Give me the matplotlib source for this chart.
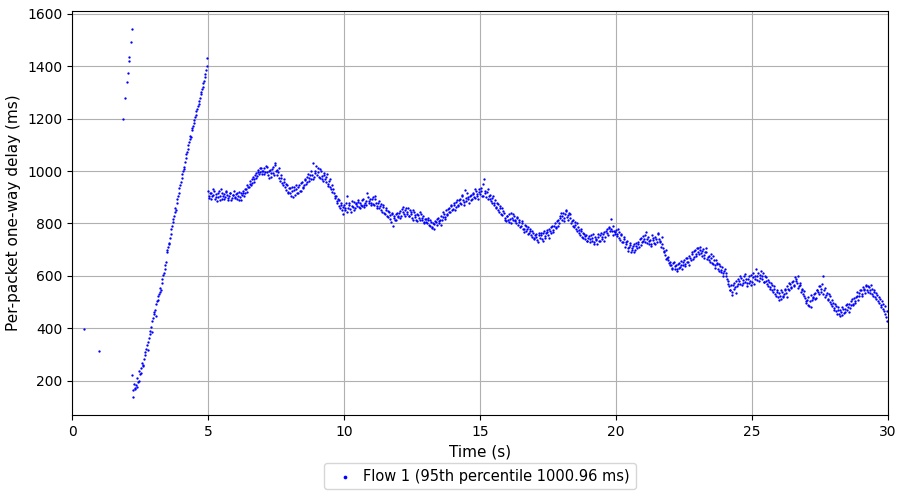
import numpy as np
import matplotlib
matplotlib.use("Agg")
import matplotlib.pyplot as plt

# puntos sueltos al inicio
early_t = [0.44, 0.98, 1.89, 1.95, 2.01, 2.05, 2.08, 2.10, 2.17, 2.21]
early_d = [397, 314, 1199, 1280, 1340, 1372, 1420, 1433, 1490, 1540]

# rampa 2.20 .. 4.95 s, cada 0.05 s
ramp_d = [222, 140, 168, 185, 175, 200, 225, 248, 262, 285,
          310, 335, 350, 380, 405, 430, 455, 470, 495, 510,
          530, 555, 575, 605, 625, 655, 700, 725, 745, 780,
          805, 830, 860, 880, 905, 935, 960, 990, 1015, 1035,
          1065, 1085, 1110, 1135, 1155, 1170, 1195, 1215, 1235, 1255,
          1280, 1300, 1320, 1345, 1370, 1400]
# segunda pasada de la rampa, 2.225 .. 4.975 s
ramp_d2 = [165, 190, 172, 210, 195, 238, 230, 270, 258, 300,
           322, 318, 365, 392, 388, 440, 462, 448, 505, 522,
           540, 548, 590, 612, 640, 690, 712, 722, 760, 790,
           818, 842, 850, 895, 918, 945, 972, 1002, 1008, 1050,
           1072, 1098, 1122, 1128, 1165, 1182, 1205, 1228, 1248, 1268,
           1292, 1312, 1335, 1360, 1385, 1430]

# meseta 5.00 .. 29.95 s, cada 0.05 s (una fila por segundo)
plateau_d = [
    922, 898, 915, 905, 930, 893, 912, 900, 925, 890, 918, 905, 895, 922, 908, 897, 915, 888, 910, 925,
    898, 915, 905, 890, 918, 908, 925, 915, 930, 945, 940, 962, 955, 978, 970, 992, 980, 1005, 995, 1012,
    988, 1010, 995, 1015, 985, 1000, 978, 1008, 992, 1022, 1000, 985, 1010, 962, 975, 945, 960, 928, 945, 915,
    935, 905, 925, 940, 910, 932, 918, 948, 925, 958, 940, 965, 950, 978, 962, 985, 968, 1030, 978, 1002,
    985, 1010, 975, 1000, 970, 992, 968, 978, 950, 962, 938, 920, 932, 898, 905, 878, 890, 858, 872, 835,
    870, 852, 905, 860, 878, 845, 868, 882, 858, 875, 890, 862, 880, 868, 895, 872, 885, 915, 878, 895,
    880, 900, 870, 892, 865, 878, 858, 875, 845, 862, 838, 852, 825, 845, 818, 835, 790, 828, 812, 840,
    825, 848, 830, 862, 838, 852, 835, 858, 828, 845, 822, 850, 832, 815, 838, 820, 842, 812, 828, 805,
    818, 800, 812, 790, 805, 782, 798, 810, 795, 822, 808, 830, 815, 842, 825, 850, 835, 860, 842, 868,
    855, 878, 862, 890, 870, 895, 875, 905, 882, 928, 885, 900, 880, 908, 892, 918, 898, 925, 905, 930,
    912, 935, 905, 968, 915, 920, 895, 910, 885, 898, 870, 888, 860, 875, 845, 858, 832, 848, 822, 808,
    828, 805, 818, 840, 812, 830, 808, 825, 795, 812, 790, 808, 778, 795, 770, 785, 762, 778, 750, 765,
    742, 760, 738, 765, 745, 758, 732, 770, 752, 775, 758, 780, 765, 792, 775, 800, 785, 815, 800, 830,
    815, 840, 822, 848, 825, 815, 835, 800, 812, 785, 795, 770, 788, 762, 778, 750, 765, 742, 758, 735,
    752, 730, 745, 760, 728, 742, 722, 750, 735, 765, 742, 768, 750, 778, 758, 782, 818, 770, 790, 760,
    775, 752, 768, 738, 755, 730, 748, 720, 735, 705, 718, 692, 708, 720, 698, 715, 730, 712, 745, 728,
    752, 730, 768, 742, 722, 738, 715, 745, 725, 750, 728, 760, 735, 712, 722, 695, 680, 665, 672, 648,
    655, 632, 648, 625, 642, 628, 650, 635, 658, 640, 662, 645, 668, 652, 678, 662, 690, 672, 700, 685,
    705, 682, 698, 675, 702, 680, 692, 665, 678, 652, 668, 645, 660, 632, 650, 628, 645, 615, 635, 610,
    625, 600, 582, 560, 548, 528, 565, 550, 580, 562, 588, 570, 592, 575, 598, 578, 562, 590, 572, 602,
    578, 612, 590, 625, 598, 580, 605, 588, 612, 578, 595, 570, 585, 558, 572, 545, 560, 530, 545, 518,
    535, 512, 540, 525, 552, 535, 562, 545, 570, 555, 582, 565, 590, 572, 555, 565, 540, 552, 525, 515,
    498, 518, 485, 528, 508, 520, 535, 515, 548, 530, 560, 540, 598, 545, 520, 535, 510, 522, 495, 508,
    478, 492, 465, 480, 455, 470, 450, 475, 462, 488, 470, 495, 478, 505, 488, 515, 498, 525, 510, 535,
    545, 525, 552, 535, 560, 540, 558, 535, 550, 525, 540, 512, 528, 498, 512, 482, 495, 465, 455, 430,
]

# segunda pasada de la meseta, 5.025 .. 29.975 s
plateau_d2 = [
    905, 918, 892, 910, 925, 900, 885, 915, 905, 930, 895, 912, 900, 920, 890, 905, 918, 898, 910, 902,
    912, 895, 920, 902, 888, 915, 905, 930, 920, 940, 952, 948, 968, 960, 985, 975, 998, 988, 1010, 1000,
    1002, 990, 1018, 998, 975, 1005, 992, 1015, 985, 1030, 1005, 995, 972, 985, 955, 968, 940, 952, 920, 935,
    918, 940, 900, 928, 945, 915, 938, 925, 955, 935, 948, 970, 958, 990, 972, 1000, 985, 970, 992, 1018,
    995, 978, 1008, 982, 962, 985, 958, 990, 942, 968, 930, 945, 915, 905, 885, 895, 865, 880, 850, 862,
    858, 880, 845, 872, 855, 885, 862, 850, 878, 865, 882, 858, 872, 890, 862, 880, 870, 900, 885, 872,
    892, 875, 905, 880, 858, 885, 865, 850, 870, 840, 858, 830, 848, 832, 805, 840, 822, 815, 835, 828,
    840, 820, 855, 842, 830, 860, 845, 828, 852, 838, 815, 842, 825, 808, 832, 815, 835, 820, 800, 818,
    805, 822, 795, 815, 788, 800, 778, 805, 818, 800, 815, 795, 825, 835, 818, 832, 855, 842, 870, 852,
    870, 850, 882, 868, 888, 878, 910, 890, 870, 898, 915, 892, 905, 888, 912, 900, 930, 912, 895, 920,
    925, 905, 950, 925, 902, 930, 905, 892, 878, 905, 880, 862, 880, 852, 868, 838, 858, 840, 815, 830,
    815, 835, 800, 822, 838, 815, 800, 820, 805, 785, 800, 780, 768, 790, 778, 760, 772, 755, 770, 745,
    755, 748, 730, 755, 762, 740, 765, 745, 762, 768, 745, 772, 785, 768, 790, 782, 808, 790, 822, 840,
    830, 808, 835, 850, 832, 840, 820, 810, 790, 805, 778, 800, 775, 758, 770, 745, 760, 752, 735, 745,
    740, 758, 735, 722, 750, 738, 760, 732, 755, 748, 760, 735, 772, 762, 785, 770, 778, 755, 772, 768,
    760, 780, 745, 760, 728, 742, 712, 730, 695, 712, 725, 700, 715, 690, 725, 705, 722, 740, 718, 735,
    740, 758, 725, 748, 732, 722, 755, 738, 720, 740, 765, 742, 728, 748, 705, 690, 700, 670, 660, 640,
    640, 625, 652, 638, 620, 645, 632, 642, 628, 652, 638, 668, 655, 640, 670, 685, 665, 695, 678, 708,
    690, 712, 688, 695, 668, 690, 705, 672, 660, 685, 650, 675, 640, 662, 645, 620, 638, 622, 600, 620,
    612, 590, 570, 545, 565, 540, 575, 558, 535, 570, 580, 598, 565, 585, 608, 590, 575, 598, 580, 565,
    595, 570, 600, 585, 610, 592, 618, 600, 578, 600, 582, 562, 578, 550, 565, 540, 552, 525, 538, 510,
    525, 545, 520, 530, 545, 520, 550, 572, 558, 578, 560, 595, 580, 598, 562, 575, 548, 530, 542, 505,
    510, 490, 505, 480, 515, 530, 512, 545, 538, 560, 552, 570, 530, 555, 528, 512, 530, 500, 485, 498,
    470, 485, 455, 472, 448, 462, 480, 458, 475, 495, 482, 462, 490, 512, 495, 505, 520, 540, 522, 548,
    530, 558, 545, 565, 548, 560, 545, 565, 530, 545, 520, 535, 505, 520, 490, 505, 475, 485, 445, 465,
]

ramp_t = np.linspace(2.20, 4.95, len(ramp_d))
ramp_t2 = np.linspace(2.225, 4.975, len(ramp_d2))
plateau_t = np.linspace(5.00, 29.95, len(plateau_d))
plateau_t2 = np.linspace(5.025, 29.975, len(plateau_d2))

t = np.concatenate([early_t, ramp_t, ramp_t2, plateau_t, plateau_t2])
d = np.concatenate([early_d, ramp_d, ramp_d2, plateau_d, plateau_d2])

fig = plt.figure(figsize=(8.98, 4.93), dpi=100)
ax = fig.add_axes([0.0802, 0.1582, 0.9087, 0.8195])

ax.scatter(t, d, s=2.8, color="blue", linewidths=0,
           label="Flow 1 (95th percentile 1000.96 ms)")

ax.set_xlim(0, 30)
ax.set_ylim(70, 1610)
ax.set_yticks([200, 400, 600, 800, 1000, 1200, 1400, 1600])
ax.grid(True, color="#b0b0b0", linewidth=0.8)
ax.set_axisbelow(True)
ax.tick_params(labelsize=10)
ax.set_xlabel("Time (s)", fontsize=11)
ax.set_ylabel("Per-packet one-way delay (ms)", fontsize=11)

ax.legend(loc="upper center", bbox_to_anchor=(0.5, -0.10), fontsize=10.5,
          markerscale=1.6, scatterpoints=1, handletextpad=0.3)

fig.savefig("out.png", dpi=100)
